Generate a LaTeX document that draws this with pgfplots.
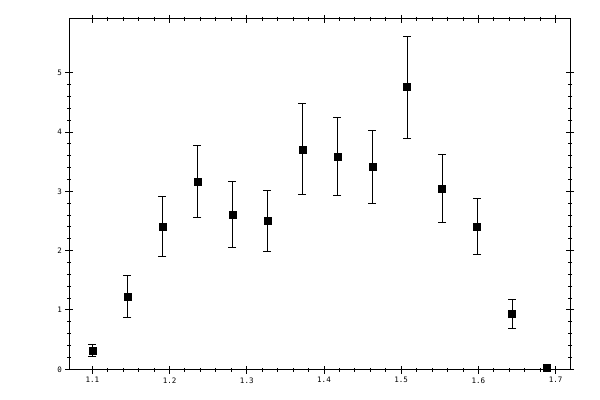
\documentclass[border=0pt]{standalone}
\usepackage{fontspec}
\setmonofont{DejaVu Sans Mono}
\usepackage{pgfplots}
\pgfplotsset{compat=1.18}
\usepackage{pgfplotstable}

\pgfplotstableread{
x       y     e
1.1000  0.32  0.10
1.1453  1.23  0.35
1.1906  2.41  0.51
1.2359  3.17  0.61
1.2812  2.61  0.55
1.3265  2.50  0.52
1.3718  3.71  0.77
1.4171  3.59  0.66
1.4624  3.41  0.62
1.5077  4.76  0.86
1.5530  3.05  0.58
1.5983  2.41  0.47
1.6436  0.93  0.24
1.6889  0.03  0.00
}\datatable

\begin{document}
\begin{tikzpicture}
	\begin{axis}[
	    name=ax,
	    scale only axis,
	    width=500.5pt, height=351pt,
	    xmin=1.0705, xmax=1.7185,
	    ymin=-0.012, ymax=5.907,
	    xtick={1.1,1.2,1.3,1.4,1.5,1.6,1.7},
	    ytick={0,1,2,3,4,5},
	    minor x tick num=4,
	    minor y tick num=4,
	    axis line style={line width=1pt},
	    every tick/.style={black, line width=1pt},
	    tick align=center,
	    major tick length=8pt,
	    minor tick length=4pt,
	    xticklabel style={/pgf/number format/fixed, /pgf/number format/precision=1, /pgf/number format/fixed zerofill},
	    tick label style={font=\ttfamily\fontsize{7.5}{9}\selectfont},
	    /pgf/number format/assume math mode=true,
	    xtick pos=both, ytick pos=both,
	    xticklabel pos=lower, yticklabel pos=left,
	    clip=false,
	]
	\addplot[
	    only marks,
	    mark=square*,
	    mark size=3.5pt,
	    black,
	    error bars/.cd,
	        y dir=both, y explicit,
	        error bar style={line width=1pt, black},
	        error mark options={rotate=90, mark size=4pt, line width=1pt, black},
	]
	    table[x=x, y=y, y error=e] {\datatable};
	\end{axis}
	\path[use as bounding box] ([shift={(-69.5pt,-30pt)}]ax.south west) rectangle ([shift={(30pt,19pt)}]ax.north east);
\end{tikzpicture}
\end{document}
